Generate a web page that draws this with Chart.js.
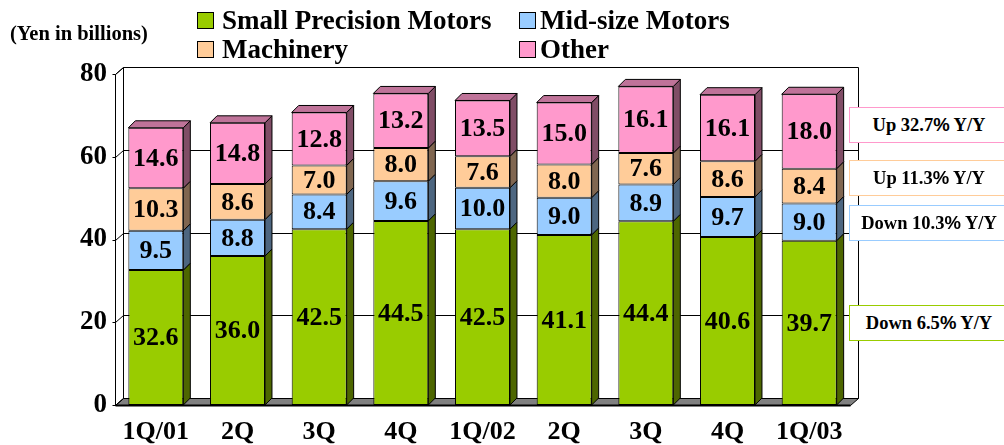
<!DOCTYPE html>
<html>
<head>
<meta charset="utf-8">
<script src="https://cdn.jsdelivr.net/npm/chart.js@4.4.1/dist/chart.umd.min.js"></script>
<style>
	body { margin: 0; background: #fff; overflow: hidden; }
	#wrap { position: relative; width: 1004px; height: 445px; overflow: hidden;
		font-family: 'Liberation Serif', 'Times New Roman', serif; font-weight: bold; color: #000; }
	canvas { position: absolute; left: 0; top: 0; }
	.unit { position: absolute; left: 10px; top: 23px; font-size: 20.5px; line-height: 20px; white-space: nowrap; }
	.leg { position: absolute; font-size: 27px; line-height: 26px; white-space: nowrap; }
	.sw { position: absolute; width: 15px; height: 15px; border: 1px solid #000; }
	.note { position: absolute; left: 849px; width: 158px; height: 34px; background: #fff;
		font-size: 18.5px; line-height: 34px; text-align: center; white-space: nowrap; }
	.pct { font-family: 'Liberation Sans', Arial, sans-serif; }
</style>
</head>
<body>
<div id="wrap">
	<canvas id="sales" width="1004" height="445"></canvas>
	<div class="unit">(Yen in billions)</div>

	<div class="sw" style="left:197px;top:12px;background:#99CC00"></div>
	<div class="leg" style="left:222px;top:7px">Small Precision Motors</div>
	<div class="sw" style="left:519px;top:12px;background:#99CCFF"></div>
	<div class="leg" style="left:540px;top:7px">Mid-size Motors</div>
	<div class="sw" style="left:197px;top:41px;background:#FFCC99"></div>
	<div class="leg" style="left:222px;top:36px">Machinery</div>
	<div class="sw" style="left:519px;top:41px;background:#FF99CC"></div>
	<div class="leg" style="left:540px;top:36px">Other</div>

	<div class="note" style="top:107px;border:1.5px solid #FF99CC">Up 32.7<span class="pct">%</span> Y/Y</div>
	<div class="note" style="top:160px;border:1.5px solid #FFCC99">Up 11.3<span class="pct">%</span> Y/Y</div>
	<div class="note" style="top:205px;border:1.5px solid #99CCFF">Down 10.3<span class="pct">%</span> Y/Y</div>
	<div class="note" style="top:305px;border:1.5px solid #99CC00">Down 6.5<span class="pct">%</span> Y/Y</div>
</div>
<script>
const quarters = ['1Q/01', '2Q', '3Q', '4Q', '1Q/02', '2Q', '3Q', '4Q', '1Q/03'];
const smallPrecision = [32.6, 36.0, 42.5, 44.5, 42.5, 41.1, 44.4, 40.6, 39.7];
const midSize = [9.5, 8.8, 8.4, 9.6, 10.0, 9.0, 8.9, 9.7, 9.0];
const machinery = [10.3, 8.6, 7.0, 8.0, 7.6, 8.0, 7.6, 8.6, 8.4];
const other = [14.6, 14.8, 12.8, 13.2, 13.5, 15.0, 16.1, 16.1, 18.0];

const frontColors = ['#99CC00', '#99CCFF', '#FFCC99', '#FF99CC'];
const sideColors = ['#4D6600', '#4D6680', '#806650', '#804D66'];
const topColor = '#BF7399';
const wallDx = 8, wallDy = 7;
const barDx = 7, barDy = 7;
const labelFont = 'bold 26px "Liberation Serif"';

function poly(ctx, pts, fill) {
	ctx.beginPath();
	ctx.moveTo(pts[0][0], pts[0][1]);
	for (let i = 1; i < pts.length; i++) ctx.lineTo(pts[i][0], pts[i][1]);
	ctx.closePath();
	if (fill) {
		ctx.fillStyle = fill;
		ctx.fill();
	}
	ctx.stroke();
}

// walls, floor and grid of the 3D box
const boxPlugin = {
	id: 'box3d',
	beforeDatasetsDraw(chart) {
		const { ctx, chartArea } = chart;
		const y = chart.scales.y;
		const L = Math.round(chartArea.left) + 0.5;
		const R = Math.round(chartArea.right) + 0.5;
		const T = Math.round(chartArea.top) + 0.5;
		const B = Math.round(chartArea.bottom) + 0.5;
		ctx.save();
		ctx.strokeStyle = '#000';
		ctx.lineWidth = 1;
		// back wall
		poly(ctx, [[L + wallDx, T - wallDy], [R + wallDx, T - wallDy], [R + wallDx, B - wallDy], [L + wallDx, B - wallDy]], '#fff');
		// left wall
		poly(ctx, [[L, B], [L, T], [L + wallDx, T - wallDy], [L + wallDx, B - wallDy]], '#fff');
		// floor
		poly(ctx, [[L, B], [R, B], [R + wallDx, B - wallDy], [L + wallDx, B - wallDy]], '#808080');
		// grid lines
		for (const tick of y.ticks) {
			const py = Math.round(y.getPixelForValue(tick.value)) + 0.5;
			ctx.beginPath();
			ctx.moveTo(L - 3, py);
			ctx.lineTo(L, py);
			ctx.lineTo(L + wallDx, py - wallDy);
			if (tick.value > y.min && tick.value < y.max) ctx.lineTo(R + wallDx, py - wallDy);
			ctx.stroke();
		}
		// front floor edge
		ctx.lineWidth = 2;
		ctx.beginPath();
		ctx.moveTo(L, B);
		ctx.lineTo(R, B);
		ctx.stroke();
		ctx.restore();
	},
	afterDatasetsDraw(chart) {
		const { ctx } = chart;
		const last = chart.data.datasets.length - 1;
		ctx.save();
		ctx.strokeStyle = '#000';
		ctx.lineWidth = 1;
		chart.data.datasets.forEach((ds, di) => {
			const meta = chart.getDatasetMeta(di);
			meta.data.forEach((bar) => {
				const { x, y, base, width } = bar.getProps(['x', 'y', 'base', 'width'], true);
				const x1 = x - width / 2, x2 = x + width / 2;
				poly(ctx, [[x2, y], [x2 + barDx, y - barDy], [x2 + barDx, base - barDy], [x2, base]], sideColors[di]);
				if (di === last) {
					poly(ctx, [[x1, y], [x1 + barDx, y - barDy], [x2 + barDx, y - barDy], [x2, y]], topColor);
				}
			});
		});
		ctx.fillStyle = '#000';
		ctx.font = labelFont;
		ctx.textAlign = 'center';
		ctx.textBaseline = 'middle';
		chart.data.datasets.forEach((ds, di) => {
			const meta = chart.getDatasetMeta(di);
			meta.data.forEach((bar, i) => {
				const { x, y, base } = bar.getProps(['x', 'y', 'base'], true);
				ctx.fillText(ds.data[i].toFixed(1), x, (y + base) / 2 + 1);
			});
		});
		ctx.restore();
	},
};

function makeSet(label, data, i) {
	return {
		label: label,
		data: data,
		backgroundColor: frontColors[i],
		borderColor: '#000',
		borderWidth: 1,
		borderSkipped: false,
		barPercentage: 0.673,
		categoryPercentage: 1,
	};
}

const tickFont = { family: 'Liberation Serif', size: 26, weight: 'bold' };

new Chart(document.getElementById('sales'), {
	type: 'bar',
	data: {
		labels: quarters,
		datasets: [
			makeSet('Small Precision Motors', smallPrecision, 0),
			makeSet('Mid-size Motors', midSize, 1),
			makeSet('Machinery', machinery, 2),
			makeSet('Other', other, 3),
		],
	},
	options: {
		responsive: false,
		animation: false,
		layout: { padding: { top: 74, right: 154, left: 0, bottom: 0 } },
		plugins: { legend: { display: false }, tooltip: { enabled: false } },
		scales: {
			x: {
				stacked: true,
				grid: { display: false, drawTicks: false },
				border: { display: false },
				ticks: { color: '#000', font: tickFont, padding: 12, maxRotation: 0, autoSkip: false },
				afterFit(scale) { scale.height = 40; },
			},
			y: {
				stacked: true,
				min: 0,
				max: 80,
				grid: { display: false, drawTicks: false },
				border: { display: false },
				ticks: { stepSize: 20, color: '#000', font: { family: 'Liberation Serif', size: 27, weight: 'bold' }, padding: 8 },
				afterFit(scale) { scale.width = 115; },
			},
		},
	},
	plugins: [boxPlugin],
});
</script>
</body>
</html>
